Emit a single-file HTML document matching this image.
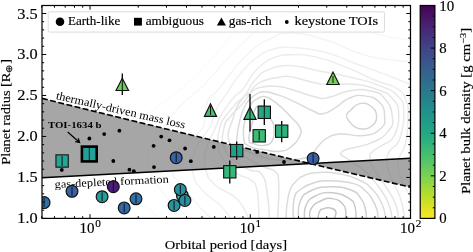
<!DOCTYPE html>
<html><head><meta charset="utf-8"><title>chart</title><style>text{stroke:#000;stroke-width:0.16px}.ns{stroke:none}html,body{margin:0;padding:0;background:#fff}body{width:473px;height:252px;overflow:hidden;font-family:"Liberation Serif",serif}</style></head><body>
<svg width="473" height="252" viewBox="0 0 473 252" style="display:block" font-family="Liberation Serif, serif">
<defs><clipPath id="ax"><rect x="42" y="5.5" width="368.5" height="212.9"/></clipPath>
<linearGradient id="cb" x1="0" y1="0" x2="0" y2="1"><stop offset="0" stop-color="#440154"/><stop offset="0.05" stop-color="#461364"/><stop offset="0.1" stop-color="#482475"/><stop offset="0.15" stop-color="#44347e"/><stop offset="0.2" stop-color="#414487"/><stop offset="0.25" stop-color="#3b518a"/><stop offset="0.3" stop-color="#355f8d"/><stop offset="0.35" stop-color="#2f6b8e"/><stop offset="0.4" stop-color="#2a788e"/><stop offset="0.45" stop-color="#25848d"/><stop offset="0.5" stop-color="#21918c"/><stop offset="0.55" stop-color="#219c88"/><stop offset="0.6" stop-color="#22a884"/><stop offset="0.65" stop-color="#33b37a"/><stop offset="0.7" stop-color="#44bf70"/><stop offset="0.75" stop-color="#5fc861"/><stop offset="0.8" stop-color="#7ad151"/><stop offset="0.85" stop-color="#9bd83c"/><stop offset="0.9" stop-color="#bddf26"/><stop offset="0.95" stop-color="#dde325"/><stop offset="1" stop-color="#fde725"/></linearGradient></defs>
<rect width="473" height="252" fill="#fff"/>
<g clip-path="url(#ax)">
<path d="M253.0 120.0C251.7 126.7 248.8 132.6 249.0 138.6C249.2 144.6 250.0 142.0 253.8 143.7C257.6 145.4 259.3 146.3 264.0 145.4C268.7 144.5 269.9 145.0 272.4 140.3C274.9 135.6 274.4 132.2 274.0 126.8C273.6 121.4 272.7 123.6 270.7 118.8C268.7 114.0 269.2 111.2 266.0 108.0C262.8 104.8 261.0 105.0 258.0 106.0C255.0 107.0 255.3 108.5 254.0 112.0C252.7 115.5 254.3 113.3 253.0 120.0Z" fill="none" stroke="#d2d2d2" stroke-width="1.45" stroke-linejoin="round"/>
<path d="M243.6 137.0C242.7 130.4 243.3 128.0 245.0 120.0C246.7 112.0 247.4 110.6 250.4 105.3C253.4 100.0 253.6 101.2 257.0 99.0C260.4 96.8 260.2 96.2 264.0 96.5C267.8 96.8 267.7 97.3 272.0 100.0C276.3 102.7 275.8 102.2 281.0 107.0C286.2 111.8 288.0 113.8 292.7 118.8C297.4 123.8 297.6 122.7 299.5 126.8C301.4 130.9 302.0 130.3 300.3 135.0C298.6 139.7 297.6 141.3 292.7 145.4C287.8 149.5 288.1 150.2 280.8 151.3C273.5 152.4 272.1 150.9 264.0 149.6C255.9 148.3 253.9 149.2 248.7 146.0C243.5 142.8 244.5 143.6 243.6 137.0Z" fill="none" stroke="#d6d6d6" stroke-width="1.45" stroke-linejoin="round"/>
<path d="M236.8 138.6C237.3 132.3 237.7 128.8 240.0 120.0C242.3 111.2 242.2 110.3 246.0 104.0C249.8 97.7 250.4 98.1 255.0 95.0C259.6 91.9 258.9 92.1 264.0 91.8C269.1 91.5 268.4 92.0 275.0 94.0C281.6 96.0 280.4 95.3 290.0 99.6C299.6 103.9 304.6 107.4 313.0 111.0C321.4 114.6 317.2 114.6 323.0 113.7C328.8 112.8 329.5 111.2 336.0 107.3C342.5 103.4 341.7 101.3 348.8 98.4C355.9 95.5 356.2 94.8 364.0 95.8C371.8 96.8 374.3 97.0 379.5 102.2C384.7 107.4 384.3 109.6 384.6 116.3C384.9 123.0 386.0 123.6 380.8 128.5C375.6 133.4 374.1 134.1 364.0 135.5C353.9 136.9 350.0 133.5 341.0 134.0C332.0 134.5 333.7 134.9 328.4 137.4C323.1 139.9 324.2 139.9 320.0 144.0C315.8 148.1 316.8 149.9 311.7 153.7C306.6 157.5 308.0 157.4 300.0 159.0C292.0 160.6 289.6 160.5 280.0 160.0C270.4 159.5 270.9 159.5 262.0 157.0C253.1 154.5 251.1 153.0 245.0 150.0C238.9 147.0 240.1 147.9 238.0 145.0C235.9 142.1 236.3 144.9 236.8 138.6Z" fill="none" stroke="#dadada" stroke-width="1.45" stroke-linejoin="round"/>
<path d="M346.5 115.8C346.3 112.3 347.7 113.1 351.0 110.0C354.3 106.9 354.7 104.6 359.6 103.6C364.5 102.6 366.2 102.9 370.5 106.0C374.8 109.1 376.4 110.9 376.6 116.0C376.8 121.1 375.5 123.1 371.2 126.3C366.9 129.5 364.5 129.3 359.5 128.7C354.5 128.1 354.9 127.3 351.6 124.0C348.3 120.7 346.7 119.3 346.5 115.8Z" fill="none" stroke="#d4d4d4" stroke-width="1.45" stroke-linejoin="round"/>
<path d="M317.9 219.0C318.3 217.0 318.1 213.9 319.6 211.3C321.1 208.7 321.4 209.5 324.0 208.6C326.6 207.7 326.8 207.2 329.8 207.9C332.8 208.6 334.6 208.5 335.7 211.3C336.8 214.1 334.7 217.0 334.3 219.0" fill="none" stroke="#c2c2c2" stroke-width="1.45" stroke-linejoin="round"/>
<path d="M310.0 219.0C310.3 216.4 308.3 213.4 311.0 208.8C313.7 204.2 315.1 203.6 320.5 201.0C325.9 198.4 326.7 197.9 332.3 198.6C337.9 199.3 339.1 200.5 342.5 203.7C345.9 206.9 345.2 207.4 345.8 211.3C346.4 215.2 345.2 217.0 345.0 219.0" fill="none" stroke="#c6c6c6" stroke-width="1.45" stroke-linejoin="round"/>
<path d="M304.4 219.0C304.8 215.6 303.2 211.2 306.0 205.4C308.8 199.6 308.7 199.2 315.4 196.0C322.1 192.8 323.7 192.0 332.3 192.7C340.9 193.4 343.4 195.0 349.2 198.6C355.0 202.2 353.3 201.8 355.0 207.0C356.7 212.2 355.7 216.0 356.0 219.0" fill="none" stroke="#cacaca" stroke-width="1.45" stroke-linejoin="round"/>
<path d="M298.5 219.0C298.9 214.7 297.0 209.1 300.0 202.0C303.0 194.9 302.5 194.9 310.3 191.0C318.1 187.1 320.3 187.1 330.6 186.8C340.9 186.5 343.3 187.0 351.0 190.0C358.7 193.0 357.4 193.8 361.0 198.6C364.6 203.4 363.9 203.6 365.3 208.8C366.7 214.0 366.2 216.4 366.5 219.0" fill="none" stroke="#cfcfcf" stroke-width="1.45" stroke-linejoin="round"/>
<path d="M293.4 219.0C293.6 213.8 292.1 206.3 294.2 198.6C296.3 190.9 296.4 192.6 301.8 188.5C307.2 184.4 308.5 184.5 315.4 182.5C322.3 180.5 319.6 180.6 329.0 180.8C338.4 181.0 343.6 181.1 352.6 183.4C361.6 185.7 359.6 186.0 364.5 190.0C369.4 194.0 368.8 193.9 372.0 199.0C375.2 204.1 375.5 204.9 377.0 210.0C378.5 215.1 377.7 216.7 378.0 219.0" fill="none" stroke="#d5d5d5" stroke-width="1.45" stroke-linejoin="round"/>
<path d="M286.3 219.0C286.4 215.7 285.9 213.3 286.8 206.0C287.7 198.7 287.9 196.0 290.0 190.0C292.1 184.0 291.7 186.0 295.0 182.5C298.3 179.0 296.9 178.5 303.0 176.0C309.1 173.5 310.1 173.1 319.0 172.5C327.9 171.9 328.1 171.7 338.0 173.5C347.9 175.3 349.1 175.3 358.0 179.5C366.9 183.7 366.9 183.8 373.0 190.0C379.1 196.2 378.7 196.7 382.0 204.0C385.3 211.3 385.0 215.2 386.0 219.0" fill="none" stroke="#dbdbdb" stroke-width="1.45" stroke-linejoin="round"/>
<path d="M277.6 219.0C277.9 209.9 279.4 195.0 278.7 183.0C278.0 171.0 278.7 175.6 275.0 171.5C271.3 167.4 271.6 170.7 264.0 167.0C256.4 163.3 253.1 162.3 245.0 157.0C236.9 151.7 236.2 150.8 232.0 146.0C227.8 141.2 229.2 142.1 228.4 138.0C227.6 133.9 227.9 134.6 229.0 130.0C230.1 125.4 230.3 126.3 232.6 120.0C234.9 113.7 233.6 112.0 238.0 105.0C242.4 98.0 243.4 97.1 250.0 92.5C256.6 87.9 256.9 88.2 264.0 86.7C271.1 85.2 271.4 85.9 278.0 86.5C284.6 87.1 280.5 86.3 290.0 89.0C299.5 91.7 305.9 94.8 315.6 97.0C325.3 99.2 320.0 99.0 328.4 97.5C336.8 96.0 338.4 92.7 348.8 91.0C359.2 89.3 360.2 88.8 369.3 90.7C378.4 92.6 378.8 91.9 384.6 98.4C390.4 104.9 391.4 107.9 392.3 116.3C393.2 124.7 393.5 124.6 388.0 131.4C382.5 138.2 382.0 138.1 370.4 143.2C358.8 148.3 347.3 146.9 342.3 151.4C337.3 155.9 344.5 155.6 350.5 160.8C356.5 166.0 358.3 164.6 366.0 172.0C373.7 179.4 375.2 181.6 381.0 190.0C386.8 198.4 386.1 197.7 389.0 205.0C391.9 212.3 391.5 215.5 392.3 219.0" fill="none" stroke="#e2e2e2" stroke-width="1.45" stroke-linejoin="round"/>
<path d="M269.5 219.0C268.9 212.2 269.0 203.4 267.0 192.0C265.0 180.6 265.8 179.6 261.5 174.0C257.2 168.4 256.5 173.0 250.0 170.0C243.5 167.0 242.6 167.8 236.0 162.0C229.4 156.2 227.0 155.9 224.0 147.0C221.0 138.1 222.7 134.6 224.2 127.0C225.7 119.4 226.1 122.1 230.0 117.0C233.9 111.9 235.2 111.8 239.5 107.0C243.8 102.2 243.1 103.3 247.0 98.0C250.9 92.7 250.2 90.6 255.0 86.0C259.8 81.4 260.2 82.2 266.0 80.0C271.8 77.8 271.9 78.4 278.0 77.5C284.1 76.6 281.8 75.5 290.0 76.6C298.2 77.7 301.4 79.7 310.5 81.7C319.6 83.7 314.8 83.6 325.8 84.3C336.8 85.0 341.0 83.0 354.0 84.3C367.0 85.6 367.3 85.8 377.0 89.4C386.7 93.0 386.8 92.2 392.3 98.4C397.8 104.6 398.3 104.2 398.7 113.7C399.1 123.2 398.2 127.9 394.0 136.0C389.8 144.1 387.7 141.3 382.0 145.5C376.3 149.7 374.5 149.0 371.6 152.6C368.7 156.2 369.5 154.9 370.4 159.6C371.3 164.3 370.5 163.3 375.0 171.0C379.5 178.7 382.7 181.4 388.0 190.0C393.3 198.6 393.3 197.7 396.0 205.0C398.7 212.3 398.0 215.5 398.7 219.0" fill="none" stroke="#e5e5e5" stroke-width="1.45" stroke-linejoin="round"/>
<path d="M259.0 219.0C258.5 211.7 259.3 200.0 257.0 190.0C254.7 180.0 254.9 183.6 250.0 179.5C245.1 175.4 244.1 178.4 237.8 174.0C231.5 169.6 230.0 169.3 225.0 162.0C220.0 154.7 219.3 153.9 218.0 145.0C216.7 136.1 218.2 134.1 220.0 127.0C221.8 119.9 220.9 122.9 225.0 117.0C229.1 111.1 230.9 109.2 236.0 103.6C241.1 98.0 240.2 101.0 245.0 95.0C249.8 89.0 249.2 86.3 255.0 80.0C260.8 73.7 259.1 73.6 268.0 70.0C276.9 66.4 277.9 65.5 290.0 65.6C302.1 65.7 299.4 67.1 315.6 70.2C331.8 73.3 337.8 74.1 354.0 78.0C370.2 81.9 368.5 81.1 379.5 85.6C390.5 90.1 391.2 89.4 397.4 95.8C403.6 102.2 403.2 100.2 403.8 111.0C404.4 121.8 403.2 128.6 399.8 138.5C396.4 148.4 393.7 144.9 390.4 150.2C387.1 155.5 387.0 153.3 386.9 159.6C386.8 165.9 386.7 165.5 390.0 175.0C393.3 184.5 396.2 185.9 400.0 197.0C403.8 208.1 403.7 213.4 405.0 219.0" fill="none" stroke="#e9e9e9" stroke-width="1.45" stroke-linejoin="round"/>
<path d="M249.0 219.0C245.8 213.8 244.9 206.9 236.5 198.5C228.1 190.1 223.8 192.9 216.0 185.7C208.2 178.5 208.3 179.0 205.8 170.0C203.3 161.0 203.5 160.9 206.0 150.0C208.5 139.1 211.8 136.2 215.8 127.0C219.8 117.8 217.4 121.0 221.7 113.8C226.0 106.6 227.4 104.7 232.7 98.5C238.0 92.3 237.7 95.4 242.8 89.2C247.9 83.0 247.6 80.6 253.0 74.0C258.4 67.4 258.2 67.3 264.0 63.0C269.8 58.7 269.4 59.1 276.0 57.0C282.6 54.9 280.0 54.8 290.0 54.8C300.0 54.8 300.7 53.5 315.6 56.9C330.5 60.3 334.1 62.5 349.0 68.4C363.9 74.3 362.0 74.8 374.4 80.0C386.8 85.2 389.9 83.4 398.0 89.0C406.1 94.6 404.0 95.4 406.5 102.0C409.0 108.6 408.2 104.6 408.0 115.0C407.8 125.4 408.0 131.7 405.6 143.0C403.2 154.3 400.0 151.5 398.6 159.6C397.2 167.7 396.6 164.8 400.0 175.0C403.4 185.2 409.0 193.7 412.0 200.0" fill="none" stroke="#ececec" stroke-width="1.45" stroke-linejoin="round"/>
<path d="M231.0 219.0C228.5 215.7 228.1 213.1 221.0 206.0C213.9 198.9 210.1 199.2 203.0 190.8C195.9 182.4 195.0 183.3 193.0 173.0C191.0 162.7 190.7 161.7 195.0 150.0C199.3 138.3 204.5 137.0 209.8 127.0C215.1 117.0 211.4 119.0 215.8 110.4C220.2 101.8 220.6 102.5 227.0 93.0C233.4 83.5 232.9 82.4 241.0 73.0C249.1 63.6 250.6 62.1 259.0 56.0C267.4 49.9 266.1 51.2 274.0 49.0C281.9 46.8 277.6 46.7 290.0 47.4C302.4 48.1 306.8 47.7 323.0 51.7C339.2 55.7 336.5 56.6 354.0 63.0C371.5 69.4 377.3 71.4 392.0 77.0C406.7 82.6 406.9 83.0 412.0 85.0" fill="none" stroke="#f0f0f0" stroke-width="1.45" stroke-linejoin="round"/>
<path d="M412.0 140.0C411.2 146.3 409.0 154.9 409.0 165.0C409.0 175.1 411.2 176.2 412.0 180.0" fill="none" stroke="#f0f0f0" stroke-width="1.45" stroke-linejoin="round"/>
<path d="M212.0 219.0C207.9 214.9 204.1 212.1 196.0 203.0C187.9 193.9 185.9 190.6 180.0 183.0C174.1 175.4 173.6 180.9 172.6 173.0C171.6 165.1 171.6 160.9 176.0 152.0C180.4 143.1 183.2 144.3 190.0 138.0C196.8 131.7 198.6 136.1 203.0 127.0C207.4 117.9 203.5 111.4 207.3 102.0C211.1 92.6 211.0 98.6 218.0 90.0C225.0 81.4 226.4 78.1 235.0 68.0C243.6 57.9 243.1 57.3 252.0 50.0C260.9 42.7 260.4 43.3 270.0 39.0C279.6 34.7 275.8 32.7 290.0 33.0C304.2 33.3 306.6 34.3 326.0 40.0C345.4 45.7 344.9 50.0 366.7 55.6C388.5 61.2 400.5 60.4 412.0 62.0" fill="none" stroke="#f4f4f4" stroke-width="1.45" stroke-linejoin="round"/>
<path d="M190.0 219.0C183.7 212.9 175.1 207.2 165.0 195.0C154.9 182.8 154.4 181.6 150.0 171.0C145.6 160.4 145.8 162.1 147.8 153.0C149.8 143.9 151.1 145.4 158.0 135.0C164.9 124.6 166.9 121.6 175.0 112.0C183.1 102.4 182.7 103.8 190.0 97.0C197.3 90.2 194.4 94.9 204.0 85.0C213.6 75.1 215.4 71.3 228.0 58.0C240.6 44.7 245.2 41.1 253.8 32.5C262.4 23.9 256.6 27.9 262.0 24.0C267.4 20.1 265.4 19.5 275.0 17.0C284.6 14.5 283.5 12.7 300.0 14.0C316.5 15.3 319.7 16.7 340.0 22.0C360.3 27.3 361.8 30.4 380.0 35.0C398.2 39.6 403.9 38.7 412.0 40.0" fill="none" stroke="#f8f8f8" stroke-width="1.45" stroke-linejoin="round"/>
<path d="M160.0 219.0C153.7 212.9 145.6 207.4 135.0 195.0C124.4 182.6 122.3 181.4 118.0 170.0C113.7 158.6 113.7 161.4 118.0 150.0C122.3 138.6 123.1 137.4 135.0 125.0C146.9 112.6 152.3 111.1 165.0 101.0C177.7 90.9 172.6 96.7 185.3 85.0C198.0 73.3 202.8 68.3 215.0 55.0C227.2 41.7 224.6 43.4 233.5 32.5C242.4 21.6 243.8 19.2 250.0 12.0C256.2 4.8 256.0 6.0 258.0 4.0" fill="none" stroke="#fbfbfb" stroke-width="1.45" stroke-linejoin="round"/>
<path d="M42 98.4Q226.25 144.2 410.5 187.2L410.5 158.2L42 177.7Z" fill="#808080" fill-opacity="0.7"/>
<line x1="42" y1="177.7" x2="410.5" y2="158.2" stroke="#000" stroke-width="1.6"/>
<path d="M42 98.4Q226.25 144.2 410.5 187.2" fill="none" stroke="#000" stroke-width="1.6" stroke-dasharray="5.9,2.47"/>
<g style="filter:grayscale(1)"><text class="ns" transform="translate(55.5,98.9) rotate(13)" font-size="11.6" textLength="132.3" lengthAdjust="spacingAndGlyphs">thermally-driven mass loss</text></g>
<g style="filter:grayscale(1)"><text class="ns" transform="translate(54.8,188.0) rotate(-2.66)" font-size="11.2" textLength="114.3" lengthAdjust="spacingAndGlyphs">gas-depleted formation</text></g>
<g style="filter:grayscale(1)"><text class="ns" x="47.9" y="128.4" font-size="8.7" font-weight="bold" textLength="53.7" lengthAdjust="spacingAndGlyphs">TOI-1634 b</text></g>
<path d="M67.7 132 L79.6 142.5 M75.2 141.6 L79.6 142.5 L78.2 138.2" stroke="#000" stroke-width="1.2" fill="none"/>
<circle cx="89.4" cy="138.5" r="1.9" fill="#000"/>
<circle cx="104.2" cy="134.1" r="1.9" fill="#000"/>
<circle cx="119.4" cy="130.7" r="1.9" fill="#000"/>
<circle cx="161.2" cy="136.6" r="1.9" fill="#000"/>
<circle cx="169.5" cy="140.3" r="1.9" fill="#000"/>
<circle cx="153.6" cy="145.8" r="1.9" fill="#000"/>
<circle cx="185.1" cy="148.5" r="1.9" fill="#000"/>
<circle cx="213.8" cy="146.9" r="1.9" fill="#000"/>
<circle cx="190.8" cy="161.2" r="1.9" fill="#000"/>
<circle cx="154" cy="167.1" r="1.9" fill="#000"/>
<circle cx="113.3" cy="161" r="1.9" fill="#000"/>
<circle cx="129.4" cy="169.7" r="1.9" fill="#000"/>
<circle cx="133.8" cy="171.2" r="1.9" fill="#000"/>
<circle cx="61.8" cy="169.9" r="1.9" fill="#000"/>
<circle cx="257.2" cy="151.9" r="1.9" fill="#000"/>
<circle cx="284" cy="162" r="1.9" fill="#000"/>
<line x1="62.1" y1="156" x2="62.1" y2="166" stroke="#000" stroke-width="1.3"/>
<line x1="236.7" y1="141.6" x2="236.7" y2="159.7" stroke="#000" stroke-width="1.3"/>
<line x1="229.8" y1="160.4" x2="229.8" y2="183.4" stroke="#000" stroke-width="1.3"/>
<line x1="259.2" y1="131" x2="259.2" y2="140.5" stroke="#000" stroke-width="1.3"/>
<line x1="264.3" y1="99.2" x2="264.3" y2="125" stroke="#000" stroke-width="1.3"/>
<line x1="281.7" y1="121.1" x2="281.7" y2="142.3" stroke="#000" stroke-width="1.3"/>
<rect x="55.95" y="154.85" width="12.3" height="12.3" fill="#25a595" stroke="#111" stroke-width="1.1"/>
<line x1="62.1" y1="156" x2="62.1" y2="166" stroke="#111" stroke-width="1"/>
<rect x="230.55" y="144.45" width="12.3" height="12.3" fill="#1fa187" stroke="#111" stroke-width="1.1"/>
<line x1="236.7" y1="145.1" x2="236.7" y2="156.1" stroke="#111" stroke-width="1"/>
<rect x="223.65" y="165.65" width="12.3" height="12.3" fill="#35b779" stroke="#111" stroke-width="1.1"/>
<line x1="229.8" y1="166.3" x2="229.8" y2="177.3" stroke="#111" stroke-width="1"/>
<rect x="253.05" y="129.65" width="12.3" height="12.3" fill="#3dbc74" stroke="#111" stroke-width="1.1"/>
<line x1="259.2" y1="131" x2="259.2" y2="140.5" stroke="#111" stroke-width="1"/>
<rect x="258.15" y="106.15" width="12.3" height="12.3" fill="#24aa83" stroke="#111" stroke-width="1.1"/>
<line x1="264.3" y1="106.8" x2="264.3" y2="117.8" stroke="#111" stroke-width="1"/>
<rect x="275.55" y="125.05" width="12.3" height="12.3" fill="#2db27d" stroke="#111" stroke-width="1.1"/>
<line x1="281.7" y1="125.7" x2="281.7" y2="136.7" stroke="#111" stroke-width="1"/>
<rect x="81.9" y="146.6" width="14.8" height="14.8" fill="#23a198" stroke="#000" stroke-width="2.6"/>
<line x1="89.3" y1="148" x2="89.3" y2="160" stroke="#1a1a1a" stroke-width="1"/>
<line x1="122.3" y1="73.5" x2="122.3" y2="94.9" stroke="#000" stroke-width="1.3"/>
<polygon points="122.3,78.3 116,90.5 128.6,90.5" fill="#6ccd5a" stroke="#111" stroke-width="1.15" stroke-linejoin="miter"/>
<line x1="122.3" y1="79.3" x2="122.3" y2="90.5" stroke="#111" stroke-width="1"/>
<line x1="210.5" y1="106" x2="210.5" y2="115" stroke="#000" stroke-width="1.3"/>
<polygon points="210.5,103.8 204.4,116.4 216.6,116.4" fill="#44bf70" stroke="#111" stroke-width="1.15" stroke-linejoin="miter"/>
<line x1="210.5" y1="106" x2="210.5" y2="115" stroke="#111" stroke-width="1"/>
<line x1="250" y1="94" x2="250" y2="131.4" stroke="#000" stroke-width="1.3"/>
<polygon points="250,107 243.9,119.3 256.1,119.3" fill="#35b779" stroke="#111" stroke-width="1.15" stroke-linejoin="miter"/>
<line x1="250" y1="108" x2="250" y2="119.3" stroke="#111" stroke-width="1"/>
<line x1="333" y1="76" x2="333" y2="83" stroke="#000" stroke-width="1.3"/>
<polygon points="333,72 326.8,84.5 339.2,84.5" fill="#75d054" stroke="#111" stroke-width="1.15" stroke-linejoin="miter"/>
<line x1="333" y1="76" x2="333" y2="83" stroke="#111" stroke-width="1"/>
<circle cx="44.1" cy="202.6" r="5.9" fill="#2f6fa8" stroke="#111" stroke-width="1.2"/>
<line x1="44.1" y1="198.1" x2="44.1" y2="207.1" stroke="#111" stroke-width="1"/>
<circle cx="72" cy="191.3" r="5.9" fill="#3b62a3" stroke="#111" stroke-width="1.2"/>
<line x1="72" y1="186.8" x2="72" y2="195.8" stroke="#111" stroke-width="1"/>
<circle cx="182.4" cy="195.7" r="5.9" fill="#2fb5a0" stroke="#111" stroke-width="1.2"/>
<line x1="182.4" y1="191.2" x2="182.4" y2="200.2" stroke="#111" stroke-width="1"/>
<circle cx="113.3" cy="186.7" r="5.9" fill="#4b1a7a" stroke="#111" stroke-width="1.2"/>
<line x1="113.3" y1="182.2" x2="113.3" y2="191.2" stroke="#111" stroke-width="1"/>
<circle cx="102.1" cy="196.7" r="5.9" fill="#2a9a9c" stroke="#111" stroke-width="1.2"/>
<line x1="102.1" y1="192.2" x2="102.1" y2="201.2" stroke="#111" stroke-width="1"/>
<circle cx="124.2" cy="207.9" r="5.9" fill="#3468a8" stroke="#111" stroke-width="1.2"/>
<line x1="124.2" y1="203.4" x2="124.2" y2="212.4" stroke="#111" stroke-width="1"/>
<circle cx="136" cy="198.8" r="5.9" fill="#3170a8" stroke="#111" stroke-width="1.2"/>
<line x1="136" y1="194.3" x2="136" y2="203.3" stroke="#111" stroke-width="1"/>
<circle cx="176.2" cy="157.7" r="5.9" fill="#3a62a8" stroke="#111" stroke-width="1.2"/>
<line x1="176.2" y1="153.2" x2="176.2" y2="162.2" stroke="#111" stroke-width="1"/>
<circle cx="180.3" cy="189.6" r="5.9" fill="#288fa0" stroke="#111" stroke-width="1.2"/>
<line x1="180.3" y1="185.1" x2="180.3" y2="194.1" stroke="#111" stroke-width="1"/>
<circle cx="174.1" cy="205.4" r="5.9" fill="#2a93a0" stroke="#111" stroke-width="1.2"/>
<line x1="174.1" y1="200.9" x2="174.1" y2="209.9" stroke="#111" stroke-width="1"/>
<circle cx="184.9" cy="200.4" r="5.9" fill="#288fa0" stroke="#111" stroke-width="1.2"/>
<line x1="184.9" y1="195.9" x2="184.9" y2="204.9" stroke="#111" stroke-width="1"/>
<circle cx="313.1" cy="158.6" r="5.9" fill="#3a5fa5" stroke="#111" stroke-width="1.2"/>
<line x1="313.1" y1="154.1" x2="313.1" y2="163.1" stroke="#111" stroke-width="1"/>
</g>
<path d="M42 218.4h4.2 M410.5 218.4h-4.2 M42 210.204h2.2 M410.5 210.204h-2.2 M42 202.008h2.2 M410.5 202.008h-2.2 M42 193.812h2.2 M410.5 193.812h-2.2 M42 185.616h2.2 M410.5 185.616h-2.2 M42 177.42h4.2 M410.5 177.42h-4.2 M42 169.224h2.2 M410.5 169.224h-2.2 M42 161.028h2.2 M410.5 161.028h-2.2 M42 152.832h2.2 M410.5 152.832h-2.2 M42 144.636h2.2 M410.5 144.636h-2.2 M42 136.44h4.2 M410.5 136.44h-4.2 M42 128.244h2.2 M410.5 128.244h-2.2 M42 120.048h2.2 M410.5 120.048h-2.2 M42 111.852h2.2 M410.5 111.852h-2.2 M42 103.656h2.2 M410.5 103.656h-2.2 M42 95.46h4.2 M410.5 95.46h-4.2 M42 87.264h2.2 M410.5 87.264h-2.2 M42 79.068h2.2 M410.5 79.068h-2.2 M42 70.872h2.2 M410.5 70.872h-2.2 M42 62.676h2.2 M410.5 62.676h-2.2 M42 54.48h4.2 M410.5 54.48h-4.2 M42 46.284h2.2 M410.5 46.284h-2.2 M42 38.088h2.2 M410.5 38.088h-2.2 M42 29.892h2.2 M410.5 29.892h-2.2 M42 21.696h2.2 M410.5 21.696h-2.2 M42 13.5h4.2 M410.5 13.5h-4.2 M41.7599 218.4v-2.2 M41.7599 5.5v2.2 M54.4487 218.4v-2.2 M54.4487 5.5v2.2 M65.177 218.4v-2.2 M65.177 5.5v2.2 M74.4702 218.4v-2.2 M74.4702 5.5v2.2 M82.6674 218.4v-2.2 M82.6674 5.5v2.2 M90 218.4v-4.2 M90 5.5v4.2 M138.24 218.4v-2.2 M138.24 5.5v2.2 M166.459 218.4v-2.2 M166.459 5.5v2.2 M186.48 218.4v-2.2 M186.48 5.5v2.2 M202.01 218.4v-2.2 M202.01 5.5v2.2 M214.699 218.4v-2.2 M214.699 5.5v2.2 M225.427 218.4v-2.2 M225.427 5.5v2.2 M234.72 218.4v-2.2 M234.72 5.5v2.2 M242.917 218.4v-2.2 M242.917 5.5v2.2 M250.25 218.4v-4.2 M250.25 5.5v4.2 M298.49 218.4v-2.2 M298.49 5.5v2.2 M326.709 218.4v-2.2 M326.709 5.5v2.2 M346.73 218.4v-2.2 M346.73 5.5v2.2 M362.26 218.4v-2.2 M362.26 5.5v2.2 M374.949 218.4v-2.2 M374.949 5.5v2.2 M385.677 218.4v-2.2 M385.677 5.5v2.2 M394.97 218.4v-2.2 M394.97 5.5v2.2 M403.167 218.4v-2.2 M403.167 5.5v2.2 M410.5 218.4v-4.2 M410.5 5.5v4.2" stroke="#000" stroke-width="1" fill="none"/>
<rect x="42" y="5.5" width="368.5" height="212.9" fill="none" stroke="#000" stroke-width="1.2"/>
<rect x="48.2" y="11.8" width="336.3" height="20.3" rx="1.5" fill="#fff" fill-opacity="0.8" stroke="#d8d8d8" stroke-width="0.9"/>
<circle cx="60" cy="21.7" r="4.3" fill="#000"/>
<rect x="134" y="17.8" width="7.9" height="7.8" fill="#000"/>
<polygon points="221.4,17.6 216.9,25.6 225.9,25.6" fill="#000"/>
<circle cx="286.8" cy="22" r="1.9" fill="#000"/>
<g style="filter:grayscale(1)"><text x="67.9" y="24.8" font-size="12.4" textLength="52.4" lengthAdjust="spacingAndGlyphs">Earth-like</text></g>
<g style="filter:grayscale(1)"><text x="145.7" y="24.8" font-size="12.4" textLength="58.3" lengthAdjust="spacingAndGlyphs">ambiguous</text></g>
<g style="filter:grayscale(1)"><text x="228.8" y="24.8" font-size="12.4" textLength="42.8" lengthAdjust="spacingAndGlyphs">gas-rich</text></g>
<g style="filter:grayscale(1)"><text x="294.5" y="24.8" font-size="12.4" textLength="83.6" lengthAdjust="spacingAndGlyphs">keystone TOIs</text></g>
<g style="filter:grayscale(1)"><text x="17.3" y="223.4" font-size="14.8" textLength="20.4" lengthAdjust="spacingAndGlyphs">1.0</text></g>
<g style="filter:grayscale(1)"><text x="17.3" y="182.42" font-size="14.8" textLength="20.4" lengthAdjust="spacingAndGlyphs">1.5</text></g>
<g style="filter:grayscale(1)"><text x="17.3" y="141.44" font-size="14.8" textLength="20.4" lengthAdjust="spacingAndGlyphs">2.0</text></g>
<g style="filter:grayscale(1)"><text x="17.3" y="100.46" font-size="14.8" textLength="20.4" lengthAdjust="spacingAndGlyphs">2.5</text></g>
<g style="filter:grayscale(1)"><text x="17.3" y="59.48" font-size="14.8" textLength="20.4" lengthAdjust="spacingAndGlyphs">3.0</text></g>
<g style="filter:grayscale(1)"><text x="17.3" y="18.5" font-size="14.8" textLength="20.4" lengthAdjust="spacingAndGlyphs">3.5</text></g>
<g style="filter:grayscale(1)"><text x="79.4" y="232.6" font-size="14.8" textLength="15" lengthAdjust="spacingAndGlyphs">10</text></g>
<g style="filter:grayscale(1)"><text x="95.2" y="227.4" font-size="10.6" textLength="5.6" lengthAdjust="spacingAndGlyphs">0</text></g>
<g style="filter:grayscale(1)"><text x="239.65" y="232.6" font-size="14.8" textLength="15" lengthAdjust="spacingAndGlyphs">10</text></g>
<g style="filter:grayscale(1)"><text x="255.45" y="227.4" font-size="10.6" textLength="5.6" lengthAdjust="spacingAndGlyphs">1</text></g>
<g style="filter:grayscale(1)"><text x="399.9" y="232.6" font-size="14.8" textLength="15" lengthAdjust="spacingAndGlyphs">10</text></g>
<g style="filter:grayscale(1)"><text x="415.7" y="227.4" font-size="10.6" textLength="5.6" lengthAdjust="spacingAndGlyphs">2</text></g>
<g style="filter:grayscale(1)"><text x="164.8" y="248.6" font-size="12.8" textLength="122.2" lengthAdjust="spacingAndGlyphs">Orbital period [days]</text></g>
<g style="filter:grayscale(1)"><text transform="translate(10.3,164.7) rotate(-90)" font-size="12.8" textLength="105.7" lengthAdjust="spacingAndGlyphs">Planet radius [R<tspan font-size="8.5" dy="2">⊕</tspan><tspan dy="-2">]</tspan></text></g>
<rect x="420.2" y="5.5" width="14.7" height="212.9" fill="url(#cb)" stroke="#000" stroke-width="1.2"/>
<path d="M435 218.4h-4.2 M435 207.755h-2.2 M435 197.11h-2.2 M435 186.465h-2.2 M435 175.82h-4.2 M435 165.175h-2.2 M435 154.53h-2.2 M435 143.885h-2.2 M435 133.24h-4.2 M435 122.595h-2.2 M435 111.95h-2.2 M435 101.305h-2.2 M435 90.66h-4.2 M435 80.015h-2.2 M435 69.37h-2.2 M435 58.725h-2.2 M435 48.08h-4.2 M435 37.435h-2.2 M435 26.79h-2.2 M435 16.145h-2.2 M435 5.5h-4.2" stroke="#000" stroke-width="1" fill="none"/>
<g style="filter:grayscale(1)"><text x="439.3" y="223.4" font-size="14.8" textLength="7.4" lengthAdjust="spacingAndGlyphs">0</text></g>
<g style="filter:grayscale(1)"><text x="439.3" y="180.82" font-size="14.8" textLength="7.4" lengthAdjust="spacingAndGlyphs">2</text></g>
<g style="filter:grayscale(1)"><text x="439.3" y="138.24" font-size="14.8" textLength="7.4" lengthAdjust="spacingAndGlyphs">4</text></g>
<g style="filter:grayscale(1)"><text x="439.3" y="95.66" font-size="14.8" textLength="7.4" lengthAdjust="spacingAndGlyphs">6</text></g>
<g style="filter:grayscale(1)"><text x="439.3" y="53.08" font-size="14.8" textLength="7.4" lengthAdjust="spacingAndGlyphs">8</text></g>
<g style="filter:grayscale(1)"><text x="439.3" y="10.5" font-size="14.8" textLength="15" lengthAdjust="spacingAndGlyphs">10</text></g>
<g style="filter:grayscale(1)"><text transform="translate(470.3,194.1) rotate(-90)" font-size="12.8" textLength="166.2" lengthAdjust="spacingAndGlyphs">Planet bulk density [g cm<tspan font-size="9" dy="-4.5">−3</tspan><tspan dy="4.5">]</tspan></text></g>
</svg>
</body></html>
